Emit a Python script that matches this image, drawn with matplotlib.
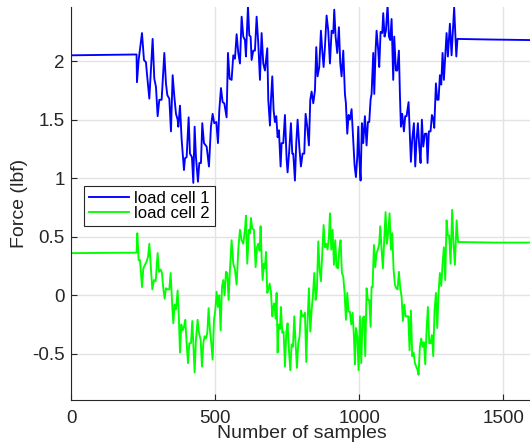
import matplotlib
matplotlib.use("Agg")
import matplotlib.pyplot as plt

# samples / force
cell1_x = [0, 226, 227.5, 233.3, 244.9, 251.8, 258.8, 261.1, 270.4, 281.9, 287.7, 293.5, 299.3, 305.1,
           313.2, 322.5, 328.2, 332.9, 339.8, 345.6, 351.4, 357.2, 363.0, 368.8, 371.1, 376.9, 382.7,
           390.8, 394.2, 400.0, 407.0, 411.6, 418.5, 423.2, 427.8, 432.4, 439.4, 444.0, 449.8, 454.4,
           460.2, 469.5, 477.6, 484.5, 490.3, 496.1, 503.1, 508.9, 513.5, 519.3, 525.1, 530.9, 538.9,
           543.6, 549.4, 556.3, 562.1, 567.9, 573.7, 579.5, 585.3,
           591.1, 596.8, 602.6, 606.1, 613.1, 617.7, 622.3, 625.8, 631.6, 637.4, 643.2, 649.0, 654.7,
           660.5, 666.3, 672.1, 680.2, 683.7, 689.5, 693.0, 697.6, 702.2, 706.8, 711.5, 716.1, 720.7,
           726.5, 730.0, 735.8, 741.6, 747.4, 750.8, 756.6, 762.4, 767.0, 770.5, 776.3, 780.9, 785.6,
           791.4, 797.1, 802.9, 808.7, 813.4, 819.1, 824.9, 829.6, 834.2, 840.0, 845.8, 850.4, 855.0,
           860.8, 866.6, 871.2, 875.9, 880.5, 886.3, 892.1, 897.9, 903.7, 909.5, 912.9, 917.6, 923.3,
           929.1, 933.8, 938.4, 944.2, 950.0,
           953.4, 958.1, 962.7, 967.3, 973.1, 978.9, 983.5, 988.2, 992.8, 996.3, 999.8, 1004.4, 1009.0,
           1013.6, 1019.4, 1025.2, 1029.9, 1034.5, 1039.1, 1042.6, 1048.4, 1051.9, 1056.5, 1060.0,
           1065.8, 1069.2, 1073.9, 1079.6, 1083.1, 1087.7, 1092.4, 1098.2, 1102.8, 1107.4, 1112.1,
           1117.8, 1121.3, 1127.1, 1131.7, 1137.5, 1141.0, 1144.5, 1149.1, 1154.9, 1159.5, 1164.2,
           1171.1, 1175.7, 1179.2, 1183.8, 1189.6, 1194.3, 1198.9, 1203.5, 1208.2, 1212.8, 1217.4,
           1222.1, 1227.8, 1233.6, 1237.1, 1241.7, 1247.5, 1252.2, 1256.8, 1260.3, 1266.1, 1270.7,
           1275.3, 1280.0, 1284.6, 1289.2, 1293.8, 1298.5, 1303.1, 1307.7, 1314.7, 1320.5, 1329.5,
           1337.0, 1341.0, 1450, 1600]
cell1_y = [2.05, 2.057, 1.82, 2.01, 2.24, 2.01, 1.99, 1.92, 1.68, 2.19, 1.85, 1.78, 1.53, 1.67,
           1.67, 2.07, 1.81, 1.71, 1.68, 1.40, 1.88, 1.70, 1.55, 1.50, 1.44, 1.62, 1.33,
           1.07, 1.17, 1.18, 1.52, 1.21, 1.18, 0.96, 1.44, 1.18, 0.97, 1.13, 1.13, 1.47,
           1.30, 1.27, 1.10, 1.44, 1.55, 1.47, 1.48, 1.30, 1.58, 1.77, 1.65, 1.64, 1.52,
           2.07, 1.85, 1.84, 2.05, 2.02, 2.23, 2.07, 1.98,
           2.38, 2.21, 2.18, 2.04, 2.47, 2.22, 2.21, 2.01, 2.09, 2.09, 2.38, 2.15, 1.84,
           2.24, 1.98, 1.92, 2.11, 1.67, 1.45, 1.67, 1.87, 1.58, 1.48, 1.53, 1.35, 1.41,
           1.10, 1.30, 1.30, 1.54, 1.16, 1.05, 1.24, 1.47, 1.21, 1.21, 0.98, 1.30, 1.50,
           1.27, 1.10, 1.21, 1.21, 1.55, 1.44, 1.28, 1.67, 1.74, 1.64, 1.75, 2.12, 1.87,
           1.95, 2.26, 2.09, 1.95, 2.12, 2.39, 2.26, 1.98, 2.26, 2.24, 2.44, 2.21, 2.07,
           2.29, 1.98, 1.87, 2.09, 1.72,
           1.64, 1.38, 1.54, 1.50, 1.59, 1.33, 1.11, 1.01, 1.18, 1.44, 1.18, 0.98, 1.47,
           1.30, 1.53, 1.28, 1.48, 1.48, 1.67, 1.72, 2.07, 1.72, 2.09, 2.26,
           2.09, 1.95, 2.25, 2.24, 2.41, 2.21, 2.26, 2.48, 2.21, 2.18, 2.36,
           1.84, 2.21, 1.92, 1.92, 2.09, 1.72, 1.44, 1.55, 1.40, 1.53, 1.53,
           1.65, 1.35, 1.14, 1.33, 1.47, 1.10, 1.33, 1.47, 1.27, 1.13, 1.50,
           1.27, 1.38, 1.38, 1.13, 1.40, 1.40, 1.54, 1.51, 1.43, 1.81, 1.67,
           1.67, 1.88, 1.80, 2.07, 1.84, 2.04, 2.24, 2.04, 2.32, 2.05, 2.46,
           2.04, 2.19, 2.185, 2.18]

cell2_x = [0, 226, 228.7, 233.3, 238.0, 244.9, 249.5, 255.3, 261.1, 266.0, 270.4, 275.0, 280.8, 286.6,
           292.4, 299.3, 303.9, 309.7, 314.3, 319.0, 323.6, 328.2, 334.0, 339.8, 344.5, 350.2, 353.7,
           358.3, 363.0, 368.8, 372.2, 376.9, 381.5, 386.1, 390.8, 395.4, 400.0, 404.7, 409.3, 415.1,
           419.7, 423.2, 427.8, 432.4, 438.2, 442.9, 448.7, 453.3, 457.9, 462.5, 467.2, 471.8, 476.4,
           481.1, 485.7, 490.3, 495.0, 499.6, 504.2, 508.9, 513.5, 518.1, 522.8, 527.4, 532.0, 536.6,
           541.3, 545.9, 550.5, 556.3, 562.1, 567.9, 573.7, 579.5, 585.3,
           591.1, 596.8, 602.6, 606.1, 610.7, 616.5, 620.0, 623.5, 628.1, 633.9, 639.7, 644.3, 648.9,
           653.6, 657.0, 660.5, 664.0, 668.6, 672.1, 675.6, 680.2, 683.7, 688.3, 693.0, 697.6, 701.1,
           704.5, 709.2, 712.6, 716.1, 719.6, 724.2, 727.7, 732.3, 736.9, 741.6, 746.2, 750.8, 755.5,
           760.1, 764.7, 769.4, 774.0, 778.6, 783.2, 787.9, 792.5, 797.1, 801.8, 806.4, 811.0, 815.7,
           820.3, 824.9, 829.6, 834.2, 838.8, 843.5, 848.1, 852.7, 857.3, 862.0, 866.6, 871.2, 875.9,
           880.5, 885.1, 889.7, 894.4, 897.9, 902.5, 907.1, 911.8, 916.4, 921.0, 925.7, 930.3, 934.9,
           939.5, 944.2, 948.8,
           953.4, 958.1, 962.7, 967.3, 972.0, 976.6, 981.2, 984.7, 988.2, 992.8, 997.4, 1002.1, 1006.7,
           1011.3, 1016.0, 1020.6, 1025.2, 1029.9, 1034.5, 1039.1, 1042.6, 1046.1, 1050.7, 1055.3,
           1059.9, 1064.6, 1069.2, 1072.7, 1077.3, 1081.9, 1086.6, 1091.2, 1095.8, 1100.5, 1105.1,
           1109.7, 1114.4, 1119.0, 1123.6, 1128.3, 1132.9, 1137.5, 1142.2, 1146.8, 1151.4, 1156.1,
           1160.7, 1165.3, 1170.0, 1174.6, 1179.2, 1183.8, 1188.5, 1193.1, 1197.7, 1202.4, 1205.8,
           1210.5, 1215.1, 1219.7, 1224.4, 1229.0, 1233.6, 1238.3, 1242.9, 1247.5, 1252.2, 1256.8,
           1261.4, 1266.1, 1270.7, 1275.3, 1279.9, 1284.6, 1289.2, 1293.8, 1298.5, 1303.1, 1307.7,
           1312.3, 1317.0, 1322.5, 1327.0, 1332.0, 1338.0, 1343.0, 1470, 1600]
cell2_y = [0.36, 0.364, 0.53, 0.30, 0.30, 0.07, 0.23, 0.26, 0.29, 0.33, 0.44, 0.27, 0.05, 0.13,
           0.12, 0.36, 0.20, 0.22, 0.19, 0.06, -0.03, 0.06, 0.05, 0.05, 0.19, -0.10, -0.24,
           -0.08, -0.12, 0.04, -0.13, -0.49, -0.25, -0.30, -0.27, -0.21, -0.41, -0.58, -0.41, -0.41,
           -0.22, -0.41, -0.66, -0.38, -0.21, -0.32, -0.38, -0.61, -0.41, -0.35, -0.37, -0.32, -0.11,
           -0.30, -0.41, -0.55, -0.21, -0.13, 0.03, -0.10, 0.00, -0.30, 0.07, 0.13, 0.00, 0.20,
           0.19, -0.04, 0.22, 0.47, 0.27, 0.22, 0.09, 0.39, 0.56,
           0.47, 0.44, 0.56, 0.68, 0.27, 0.56, 0.53, 0.66, 0.57, 0.56, 0.24, 0.41, 0.44,
           0.38, 0.59, 0.33, 0.13, 0.27, 0.23, 0.37, 0.02, 0.05, 0.10, 0.03, -0.18, -0.10,
           -0.07, -0.20, 0.02, -0.49, -0.25, -0.29, -0.10, -0.32, -0.31, -0.61, -0.32, -0.24, -0.47,
           -0.64, -0.42, -0.44, -0.18, -0.41, -0.62, -0.41, -0.35, -0.13, -0.18, -0.18, -0.15, -0.57,
           -0.21, 0.06, -0.31, -0.13, 0.00, 0.19, -0.04, 0.05, 0.46, 0.22, 0.12, 0.36, 0.60,
           0.41, 0.44, 0.39, 0.50, 0.70, 0.39, 0.56, 0.26, 0.47, 0.24, 0.23, 0.39, 0.47,
           0.19, 0.16, 0.02,
           -0.21, 0.02, -0.14, -0.14, -0.25, -0.15, -0.35, -0.59, -0.28, -0.35, -0.64, -0.18, -0.58,
           -0.20, -0.18, -0.52, 0.06, -0.04, -0.04, -0.27, 0.07, 0.07, 0.43, 0.24,
           0.36, 0.39, 0.44, 0.59, 0.39, 0.23, 0.47, 0.71, 0.44, 0.54, 0.70,
           0.39, 0.53, 0.22, 0.09, 0.06, 0.05, 0.20, 0.06, -0.01, -0.22, -0.08,
           -0.18, -0.18, -0.18, -0.47, -0.13, -0.52, -0.49, -0.58, -0.61, -0.64, -0.68,
           -0.44, -0.37, -0.44, -0.40, -0.59, -0.30, -0.10, -0.41, -0.41, -0.34, -0.52,
           -0.13, 0.02, -0.28, 0.02, 0.19, 0.08, 0.27, 0.41, 0.13, 0.64, 0.51,
           0.51, 0.27, 0.73, 0.45, 0.26, 0.64, 0.455, 0.45, 0.45]

x_ticks = [0, 500, 1000, 1500]
y_ticks = [-0.5, 0, 0.5, 1, 1.5, 2]
y_tick_labels = ['-0.5', '0', '0.5', '1', '1.5', '2']

plt.rcParams['font.family'] = ['Liberation Sans', 'DejaVu Sans']

fig = plt.figure(figsize=(5.3, 4.46), dpi=100)
ax = fig.add_axes([0.1349, 0.1031, 0.8689, 0.8805])

ax.plot(cell1_x, cell1_y, color='#0000ff', lw=1.35, label='load cell 1')
ax.plot(cell2_x, cell2_y, color='#00ff00', lw=1.35, label='load cell 2')

ax.set_xlim(0, 1600)
ax.set_ylim(-0.895, 2.46)
ax.set_xticks(x_ticks)
ax.set_yticks(y_ticks)
ax.set_yticklabels(y_tick_labels)
ax.grid(True, color='#e3e3e3', lw=1.0)
ax.set_axisbelow(True)

for side in ['top', 'right']:
    ax.spines[side].set_visible(False)
for side in ['left', 'bottom']:
    ax.spines[side].set_color('#262626')
    ax.spines[side].set_linewidth(0.8)
ax.tick_params(direction='in', length=4, width=0.8, colors='#262626', labelsize=13.5, pad=5)
ax.tick_params(axis='x', pad=7)

ax.set_xlabel('Number of samples', fontsize=14, color='#262626', labelpad=-1)
ax.set_ylabel('Force (lbf)', fontsize=14, color='#262626', labelpad=3)

leg = ax.legend(loc='upper left', bbox_to_anchor=(0.027, 0.545), borderaxespad=0,
                fontsize=12, handlelength=2.4, handletextpad=0.3, labelspacing=0.0,
                borderpad=0.3, fancybox=False, framealpha=1)
leg.get_frame().set_edgecolor('#262626')
leg.get_frame().set_linewidth(0.8)

fig.savefig('out.png', dpi=100)
